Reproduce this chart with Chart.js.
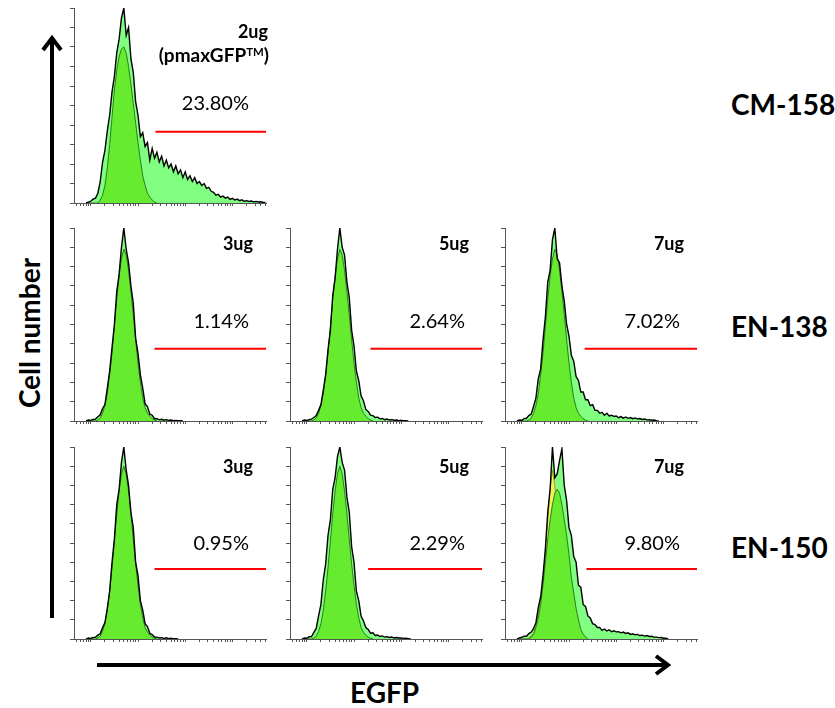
<!DOCTYPE html>
<html>
<head>
<meta charset="utf-8">
<title>EGFP expression</title>
<script src="https://cdn.jsdelivr.net/npm/chart.js@4.4.1/dist/chart.umd.min.js"></script>
<style>
    html, body { margin: 0; padding: 0; background: #fff; }
    #page { position: relative; width: 835px; height: 708px; overflow: hidden; font-family: Lato, "Open Sans", sans-serif; color: #000; }
    #page canvas { position: absolute; }
    #page svg { position: absolute; left: 0; top: 0; }
    .txt { position: absolute; white-space: nowrap; line-height: 1; }
    .dose { font-size: 18px; font-weight: bold; text-align: right; }
    .pct { font-size: 20px; }
    .big { font-size: 28px; font-weight: bold; }
    sup { font-size: 60%; vertical-align: 0.55em; line-height: 0; }
</style>
</head>
<body>
<div id="page">
    <svg width="835" height="708">
        <g stroke="#000" stroke-width="4" fill="none" stroke-linecap="butt">
            <line x1="52" y1="618" x2="52" y2="40"/>
            <polyline points="43,50 52,38 61,50" stroke-linejoin="miter"/>
            <line x1="97" y1="665" x2="666" y2="665"/>
            <polyline points="656,656 668,665 656,674" stroke-linejoin="miter"/>
        </g>
    </svg>
</div>
<script>
const ControlIds = {
    Page: "page",
}

// x bins, in decades of EGFP intensity (log10)
const BINS = [
    -0.10, -0.05, 0.00, 0.05, 0.10, 0.15, 0.20, 0.25, 0.30, 0.35,
    0.40, 0.45, 0.50, 0.55, 0.60, 0.65, 0.70, 0.75, 0.80, 0.85,
    0.90, 0.95, 1.00, 1.05, 1.10, 1.15, 1.20, 1.25, 1.30, 1.35,
    1.40, 1.45, 1.50, 1.55, 1.60, 1.65, 1.70, 1.75, 1.80, 1.85,
    1.90, 1.95, 2.00, 2.05, 2.10, 2.15, 2.20, 2.25, 2.30, 2.35,
    2.40, 2.45, 2.50, 2.55, 2.60, 2.65, 2.70, 2.75, 2.80, 2.85,
    2.90, 2.95, 3.00, 3.05, 3.10, 3.15, 3.20, 3.25, 3.30, 3.35,
    3.40, 3.45, 3.50, 3.55, 3.60, 3.65, 3.70
];

// cell counts, % of the panel maximum
const CM158_2UG = [
    0, 0.5, 1, 2, 2.5, 5, 11, 21, 27, 37,
    45, 57, 65, 77, 84, 95, 100, 86, 90, 74,
    67, 52, 45, 34, 36, 29, 31, 22, 28, 23,
    26, 21, 24, 19, 22, 18, 20, 16, 19, 15,
    17, 13, 16, 12, 14, 11, 13, 10, 11, 9,
    10, 7.5, 8, 6, 5.5, 4, 4.5, 3, 3.5, 2.5,
    3, 1.8, 2.4, 1.5, 2, 1.2, 1.6, 0.9, 1.2, 0.8,
    1, 0.6, 0.8, 0.5, 0.6, 0.3, 0.3
];
const CM158_NEG = [
    0, 0, 0, 0, 0, 0, 1.5, 4, 9, 18,
    30, 44, 58, 68, 75, 79, 80, 77, 70, 61,
    51, 41, 31, 22, 14, 9, 5, 3, 1.5, 0.5,
    0
];

const EN138_3UG = [
    0, 0.5, 0.3, 0.8, 1, 2.2, 3.2, 6.5, 8.5, 17,
    26, 38, 50, 67, 76, 90, 100, 89, 82, 70,
    61, 43, 35, 24, 17, 9, 7.5, 3.5, 3, 1.2,
    1.2, 0.6, 0.9, 0.4, 0.7, 0.3, 0.5, 0.2, 0.3, 0.1,
    0.2, 0
];
const EN138_5UG = [
    0, 0.5, 0.3, 0.7, 1, 1.8, 2.8, 5.5, 8.5, 16,
    24, 37, 47, 65, 74, 89, 100, 90, 86, 72,
    64, 47, 39, 26, 21, 13, 10.5, 6, 5, 3,
    2.8, 1.8, 2, 1.1, 1.3, 0.7, 1, 0.5, 0.7, 0.4,
    0.5, 0.2, 0.4, 0.1, 0.2, 0
];
const EN138_7UG = [
    0, 0.5, 0.4, 1.2, 1.4, 2.8, 3.6, 7.5, 12, 22,
    27, 42, 54, 72, 78, 94, 100, 84, 82, 70,
    62, 50, 44, 34, 31, 23, 21, 15, 15, 11,
    11, 8, 8.5, 5.5, 5.5, 4, 4.5, 3, 4, 2.6,
    3, 2.4, 2.6, 1.7, 2.3, 1.5, 2.1, 1.4, 1.8, 1.2,
    1.6, 1.1, 1.3, 0.8, 1, 0.6, 0.7, 0.4, 0.5, 0.2,
    0
];
const EN138_NEG = [
    0, 0, 0, 0, 0, 0.5, 1.5, 4, 8, 14,
    24, 35, 49, 63, 75, 84, 89, 86, 78, 67,
    55, 42, 30, 20, 12, 7, 4, 2.5, 1.2, 0.5,
    0
];

const EN150_3UG = [
    0, 0.5, 0.3, 0.8, 0.9, 2, 2.7, 6, 8.5, 16,
    25, 40, 52, 70, 78, 92, 100, 88, 80, 66,
    58, 40, 33, 20, 15, 8, 6.5, 3, 2.3, 1,
    1, 0.5, 0.7, 0.3, 0.6, 0.2, 0.4, 0.1, 0.2, 0
];
const EN150_5UG = [
    0, 0.5, 0.4, 1.2, 1.3, 3.4, 5.5, 12, 18, 31,
    39, 54, 62, 78, 84, 95, 100, 92, 88, 74,
    66, 48, 40, 25, 20, 12, 9.5, 6, 5, 3,
    3.2, 1.8, 2.1, 1.3, 1.6, 1, 1.2, 0.8, 1, 0.5,
    0.8, 0.5, 0.6, 0.3, 0.4, 0.2, 0
];
const EN150_7UG = [
    0, 0.6, 0.9, 1.5, 1.4, 2.8, 3.6, 5.5, 8.5, 16.5,
    22, 33, 47, 66, 78, 100, 84, 86, 93, 99,
    80, 72, 58, 54, 43, 40, 28, 27, 18, 17,
    12, 11, 8, 7.5, 6, 6, 4.5, 5.2, 4.2, 4.8,
    3.8, 4.3, 3.7, 3.8, 3.2, 3.6, 2.9, 3.2, 2.4, 2.7,
    2.2, 2.4, 1.8, 2, 1.5, 1.8, 1.3, 1.4, 1, 1,
    0.7, 0.8, 0.4, 0.4, 0
];
const EN150_NEG = [
    0, 0, 0, 0, 0, 0.5, 1.5, 4, 8, 15,
    25, 37, 51, 65, 77, 86, 90, 86, 77, 65,
    52, 39, 28, 18, 11, 6, 3.5, 2, 1, 0.4,
    0
];
const EN150_NEG_7 = [
    0, 0, 0, 0, 0, 0, 1, 2.5, 6, 11,
    18, 28, 40, 52, 62, 70, 76, 78, 76, 70,
    62, 54, 44, 32, 24, 16, 10, 5, 2.5, 1,
    0
];
const EN150_MOCK_7 = [
    0, 0, 0, 0, 0, 0.5, 1.5, 3, 7, 13,
    20, 30, 46, 62, 78, 88, 80, 62, 44, 28,
    16, 8, 4, 1.5, 0
];

const DOSES = ["2ug", "3ug", "5ug", "7ug", "3ug", "5ug", "7ug"];
const PERCENTS = ["23.80%", "1.14%", "2.64%", "7.02%", "0.95%", "2.29%", "9.80%"];
const CELL_LINES = ["CM-158", "EN-138", "EN-150"];
const GATE_START = [1.37, 1.35, 1.35, 1.33, 1.35, 1.30, 1.37];
const GATE_LEVEL = [36.6, 37.5, 37.5, 37.5, 36.5, 36.5, 36.5];

// axis range, decades
const X_MIN = -0.355;
const X_MAX = 3.71;

// panel placement (px)
const COL_LEFT = [74, 290, 505];
const COL_WIDTH = 192;
const ROW_SPAN = [[8, 202], [228, 420], [447, 638]];
const DOSE_TOP = [22, 234, 457];
const PCT_TOP = [92, 310, 532];
const LINE_TOP = [90, 312, 533];

const Panels = [
    { row: 0, col: 0, sample: CM158_2UG, negative: CM158_NEG },
    { row: 1, col: 0, sample: EN138_3UG, negative: EN138_NEG },
    { row: 1, col: 1, sample: EN138_5UG, negative: EN138_NEG },
    { row: 1, col: 2, sample: EN138_7UG, negative: EN138_NEG },
    { row: 2, col: 0, sample: EN150_3UG, negative: EN150_NEG },
    { row: 2, col: 1, sample: EN150_5UG, negative: EN150_NEG },
    { row: 2, col: 2, sample: EN150_7UG, negative: EN150_NEG_7, mock: EN150_MOCK_7 },
];

function toPoints(values) {
    return values.map((y, i) => ({ x: BINS[i], y: y }));
}

// log style tick marks: 1..9 in each decade
function logTicks(axis) {
    let ticks = [];
    for (let k = -1; k <= 3; k++) {
        for (let m = 1; m <= 9; m++) {
            let v = k + Math.log10(m);
            if (v >= axis.min && v <= axis.max)
                ticks.push({ value: v });
        }
    }
    axis.ticks = ticks;
}

function addText(html, cls, style) {
    let el = document.createElement("div");
    el.className = "txt " + cls;
    el.innerHTML = html;
    Object.assign(el.style, style);
    document.getElementById(ControlIds.Page).append(el);
    return el;
}

function buildPanel(panel, i) {
    const left = COL_LEFT[panel.col];
    const [top, bottom] = ROW_SPAN[panel.row];
    const canvas = document.createElement("canvas");
    canvas.width = COL_WIDTH + 20;
    canvas.height = bottom - top + 16;
    canvas.style.left = (left - 10) + "px";
    canvas.style.top = (top - 6) + "px";
    document.getElementById(ControlIds.Page).append(canvas);

    let datasets = [
        {
            label: "sample outline",
            data: toPoints(panel.sample),
            borderColor: "#000",
            borderWidth: 1.4,
            fill: false,
            order: 0
        },
        {
            label: "gate",
            data: [{ x: GATE_START[i], y: GATE_LEVEL[i] }, { x: X_MAX, y: GATE_LEVEL[i] }],
            borderColor: "#ff0000",
            borderWidth: 2,
            fill: false,
            order: 1
        },
        {
            label: "negative",
            data: toPoints(panel.negative),
            borderColor: "#2e7d22",
            borderWidth: 1,
            backgroundColor: "#66eb2e",
            fill: "origin",
            order: 2
        },
        {
            label: "sample",
            data: toPoints(panel.sample),
            borderColor: "rgba(0,0,0,0)",
            borderWidth: 1,
            backgroundColor: "#80ff80",
            fill: "origin",
            order: 4
        }
    ];
    if (panel.mock) {
        datasets.push({
            label: "mock",
            data: toPoints(panel.mock),
            borderColor: "#9a9a20",
            borderWidth: 1,
            backgroundColor: "#f2f25a",
            fill: "origin",
            order: 3
        });
    }

    new Chart(canvas, {
        type: "line",
        data: { datasets: datasets },
        options: {
            responsive: false,
            animation: false,
            devicePixelRatio: 1,
            layout: { padding: { left: 6, top: 6, right: 10, bottom: 6 } },
            plugins: { legend: { display: false }, tooltip: { enabled: false } },
            elements: { point: { radius: 0 }, line: { tension: 0 } },
            scales: {
                x: {
                    type: "linear",
                    min: X_MIN,
                    max: X_MAX,
                    afterBuildTicks: logTicks,
                    ticks: { display: false },
                    grid: { drawOnChartArea: false, tickLength: 3, color: "#555" },
                    border: { color: "#555" }
                },
                y: {
                    min: 0,
                    max: 100,
                    ticks: { display: false, stepSize: 10 },
                    grid: { drawOnChartArea: false, tickLength: 4, color: "#555" },
                    border: { color: "#555" }
                }
            }
        }
    });

    // labels inside the panel
    const rightEdge = panel.row === 0 ? left + 194 : left + 179;
    addText(DOSES[i], "dose", { right: (835 - rightEdge) + "px", top: DOSE_TOP[panel.row] + "px" });
    if (panel.row === 0)
        addText("(pmaxGFP<sup>TM</sup>)", "dose", { right: (835 - left - 195) + "px", top: "45px", fontSize: "19px" });
    addText(PERCENTS[i], "pct", { right: (835 - left - 175) + "px", top: PCT_TOP[panel.row] + "px" });
}

function onStart() {
    Panels.forEach((p, i) => buildPanel(p, i));
    CELL_LINES.forEach((name, r) => addText(name, "big", { left: "731px", top: LINE_TOP[r] + "px" }));
    addText("Cell number", "big", { left: "29px", top: "333px", transform: "translate(-50%,-50%) rotate(-90deg)" });
    addText("EGFP", "big", { left: "350px", top: "678px" });
}

onStart();
</script>
</body>
</html>
